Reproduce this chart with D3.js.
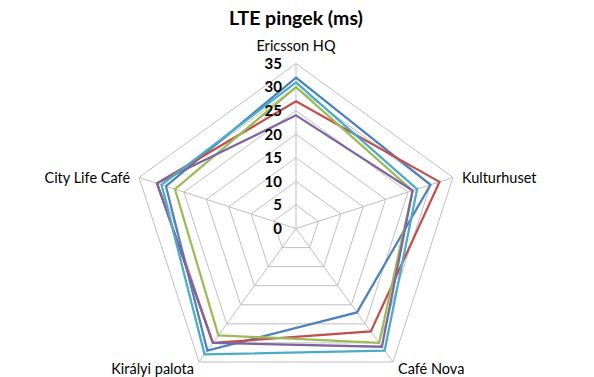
<!DOCTYPE html>
<html>
<head>
  <meta charset="utf-8">
  <title>LTE pingek</title>
  <style>
    body { margin: 0; background: #fff; }
    .chart { font-family: Lato, "Open Sans", sans-serif; }
    .grid { fill: none; stroke: #bfbfbf; stroke-width: 1; }
    .spoke { stroke: #bfbfbf; stroke-width: 1; }
    .series { fill: none; stroke-width: 2.25; stroke-linejoin: miter; }
    .tick-label { font-size: 15px; font-weight: bold; fill: #000; }
    .cat-label { font-size: 14.5px; fill: #000; }
    .title { font-size: 19.5px; font-weight: bold; fill: #000; }
  </style>
</head>
<body>
  <svg id="chart" class="chart" width="594" height="377"></svg>

  <script src="https://d3js.org/d3.v7.min.js"></script>
  <script>
    // categories (clockwise from top)
    const categories = ['Ericsson HQ', 'Kulturhuset', 'Café Nova', 'Királyi palota', 'City Life Café'];
    // ping values (ms) per series
    const series1 = [32, 30, 22, 32, 29]; // blue
    const series2 = [27, 32, 27, 30, 31]; // red
    const series3 = [30, 26, 30, 28, 27]; // green
    const series4 = [24, 26, 31, 30, 31]; // purple
    const series5 = [31, 27, 32, 33, 30]; // aqua
    const seriesColors = ['#4F81BD', '#C0504D', '#9BBB59', '#8064A2', '#4BACC6'];
    const tickValues = [0, 5, 10, 15, 20, 25, 30, 35];

    const svg = d3.select('#chart');
    const cx = 296, cy = 228.5, R = 165;
    const g = svg.append('g').attr('transform', `translate(${cx},${cy})`);

    const rScale = d3.scaleLinear().domain([0, 35]).range([0, R]);
    const aScale = d3.scaleLinear().domain([0, categories.length]).range([0, 2 * Math.PI]);

    const pt = (i, v) => [Math.sin(aScale(i)) * rScale(v), -Math.cos(aScale(i)) * rScale(v)];

    // grid rings
    tickValues.slice(1).forEach(t => {
      g.append('polygon')
        .attr('class', 'grid')
        .attr('points', categories.map((c, i) => pt(i, t).join(',')).join(' '));
    });

    // spokes
    categories.forEach((c, i) => {
      const p = pt(i, 35);
      g.append('line').attr('class', 'spoke')
        .attr('x1', 0).attr('y1', 0).attr('x2', p[0]).attr('y2', p[1]);
    });

    // series
    const line = d3.lineRadial()
      .angle((d, i) => aScale(i))
      .radius(d => rScale(d))
      .curve(d3.curveLinearClosed);

    [series1, series2, series3, series4, series5].forEach((s, k) => {
      g.append('path')
        .attr('class', 'series')
        .attr('stroke', seriesColors[k])
        .attr('d', line(s));
    });

    // value labels along top axis
    g.selectAll('.tick-label')
      .data(tickValues)
      .enter()
      .append('text')
      .attr('class', 'tick-label')
      .attr('x', -14)
      .attr('y', d => -rScale(d))
      .attr('dy', '0.36em')
      .attr('text-anchor', 'end')
      .text(d => d);

    // category labels
    const labelPos = [
      { dx: 0, dy: -18, anchor: 'middle' },
      { dx: 9, dy: 0, anchor: 'start' },
      { dx: 5, dy: 7, anchor: 'start' },
      { dx: -5, dy: 7, anchor: 'end' },
      { dx: -9, dy: 0, anchor: 'end' }
    ];
    categories.forEach((c, i) => {
      const p = pt(i, 35);
      const lp = labelPos[i];
      g.append('text')
        .attr('class', 'cat-label')
        .attr('x', p[0] + lp.dx)
        .attr('y', p[1] + lp.dy)
        .attr('dy', '0.35em')
        .attr('text-anchor', lp.anchor)
        .text(c);
    });

    svg.append('text')
      .attr('class', 'title')
      .attr('x', 296)
      .attr('y', 25)
      .attr('text-anchor', 'middle')
      .text('LTE pingek (ms)');
  </script>
</body>
</html>
